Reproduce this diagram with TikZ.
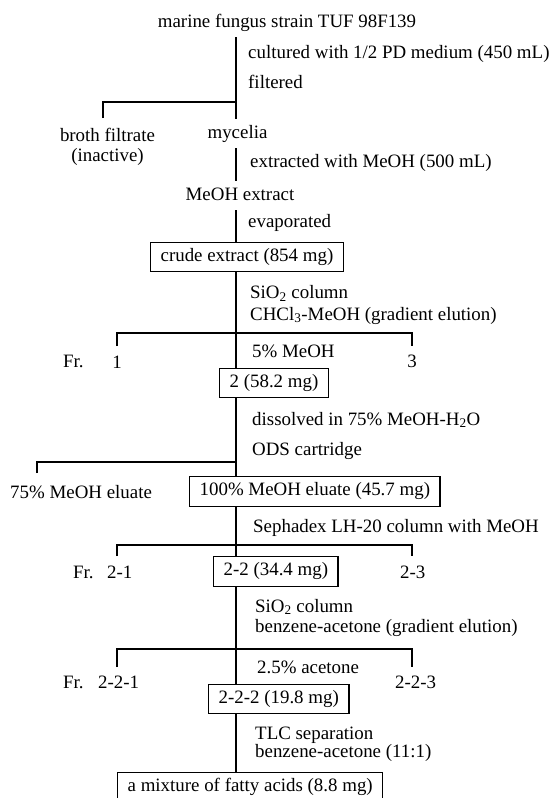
\documentclass[tikz,border=0pt]{standalone}
\usepackage{fontspec}
\setmainfont{Liberation Serif}
\usetikzlibrary{calc}

\begin{document}
\begin{tikzpicture}[x=1pt,y=-1pt,
    every node/.style={font=\fontsize{18.9}{20}\selectfont},
    lbl/.style={anchor=base west,inner sep=0pt,align=left},
    plain/.style={anchor=base,inner sep=0pt,align=center},
    prod/.style={anchor=base,inner sep=0pt,outer sep=6pt,text height=13pt,text depth=4pt},
    res/.style={draw,line width=1.3pt,anchor=west,inner xsep=10pt,inner ysep=6pt,text height=13pt,text depth=4.5pt},
    link/.style={line width=1.6pt}]
    \useasboundingbox (0,0) rectangle (552,798);
    \coordinate (ax) at (236,0);

    \node[prod] (strain) at (287,27) {marine fungus strain TUF 98F139};
    \node[lbl] (cult) at (248,58) {cultured with 1/2 PD medium (450 mL)};
    \node[lbl] (filt) at (248,88) {filtered};
    \node[plain] (broth) at (107.5,161) {broth filtrate\\(inactive)};
    \node[prod] (myc) at (237.5,138) {mycelia};
    \node[lbl] (extr) at (250,167) {extracted with MeOH (500 mL)};
    \node[prod] (mext) at (240,200) {MeOH extract};
    \node[lbl] (evap) at (248,227) {evaporated};
    \node[res] (crude) at (150,257) {crude extract (854 mg)};

    \node[lbl] (col1) at (250,320) {SiO\textsubscript{2} column\\[1.5pt]CHCl\textsubscript{3}-MeOH (gradient elution)};
    \node[lbl] (fra) at (63,367) {Fr.};
    \node[plain] (f1) at (117,368) {1};
    \node[lbl] (pct5) at (252,357) {5\% MeOH};
    \node[plain] (f3) at (412,367) {3};
    \node[res] (f2) at (219,383) {2 (58.2 mg)};

    \node[lbl] (diss) at (252,425) {dissolved in 75\% MeOH-H\textsubscript{2}O};
    \node[lbl] (ods) at (252,455) {ODS cartridge};
    \node[lbl] (elu75) at (10,498) {75\% MeOH eluate};
    \node[res] (elu100) at (189,491.5) {100\% MeOH eluate (45.7 mg)};

    \node[lbl] (seph) at (253,532) {Sephadex LH-20 column with MeOH};
    \node[lbl] (frb) at (73,578) {Fr.};
    \node[lbl] (f21) at (107,578) {2-1};
    \node[res] (f22) at (213,571.5) {2-2 (34.4 mg)};
    \node[lbl] (f23) at (400,578) {2-3};

    \node[lbl] (col2) at (255,632) {SiO\textsubscript{2} column\\benzene-acetone (gradient elution)};
    \node[lbl] (ace) at (257,673) {2.5\% acetone};
    \node[lbl] (frc) at (63,688) {Fr.};
    \node[lbl] (f221) at (98,688) {2-2-1};
    \node[res] (f222) at (208,699) {2-2-2 (19.8 mg)};
    \node[lbl] (f223) at (395,688) {2-2-3};

    \node[lbl] (tlc) at (255,757) {TLC separation\\[-2pt]benzene-acetone (11:1)};
    \node[res] (fatty) at (117,787.5) {a mixture of fatty acids (8.8 mg)};

    % branch points and tick ends
    \coordinate (j1) at (236,102); \coordinate (t1) at (103,118);
    \coordinate (j2) at (236,333); \coordinate (t2l) at (117,346); \coordinate (t2r) at (412,346);
    \coordinate (j3) at (236,462); \coordinate (t3) at (37,473);
    \coordinate (j4) at (236,545); \coordinate (t4l) at (117,556); \coordinate (t4r) at (412,556);
    \coordinate (j5) at (236,649); \coordinate (t5l) at (117,667); \coordinate (t5r) at (412,667);

    \draw[link] (strain.south -| ax) -- (myc.north -| ax);
    \draw[link] (t1) |- (j1);
    \draw[link] (myc.south -| ax) -- (mext.north -| ax);
    \draw[link] (mext.south -| ax) -- (crude.north -| ax);
    \draw[link] (crude.south -| ax) -- (f2.north -| ax);
    \draw[link] (t2l) |- (j2) -| (t2r);
    \draw[link] (f2.south -| ax) -- (elu100.north -| ax);
    \draw[link] (t3) |- (j3);
    \draw[link] (elu100.south -| ax) -- (f22.north -| ax);
    \draw[link] (t4l) |- (j4) -| (t4r);
    \draw[link] (f22.south -| ax) -- (f222.north -| ax);
    \draw[link] (t5l) |- (j5) -| (t5r);
    \draw[link] (f222.south -| ax) -- (fatty.north -| ax);
\end{tikzpicture}
\end{document}
